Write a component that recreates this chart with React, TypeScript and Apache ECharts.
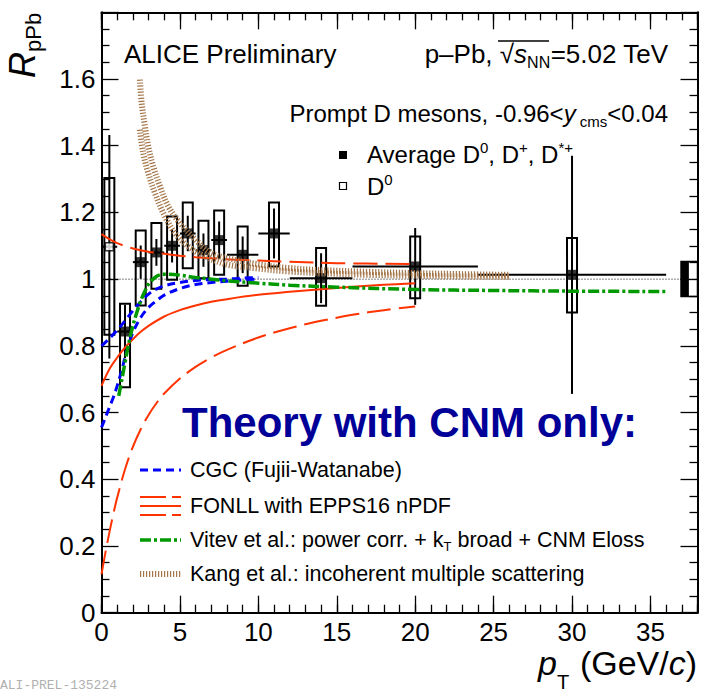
import React, { useEffect, useRef } from 'react';
import * as echarts from 'echarts';

const FONT = '"Liberation Sans", Arial, Helvetica, sans-serif';

// ---------------- data: Average D0, D+, D*+ ----------------
const avgPt = [1.5, 2.5, 3.5, 4.5, 5.5, 6.5, 7.5, 9, 11, 14, 20, 30];
const avgPtLow = [1, 2, 3, 4, 5, 6, 7, 8, 10, 12, 16, 24];
const avgPtHigh = [2, 3, 4, 5, 6, 7, 8, 10, 12, 16, 24, 36];
const avgR = [0.843, 1.051, 1.08, 1.1, 1.137, 1.087, 1.117, 1.073, 1.137, 1.003, 1.038, 1.013];
const avgStat = [0.08, 0.05, 0.04, 0.05, 0.053, 0.05, 0.056, 0.055, 0.075, 0.075, 0.115, 0.357];
const avgSystLow = [0.676, 0.921, 0.971, 0.998, 1.033, 1.003, 1.013, 0.98, 1.038, 0.92, 0.943, 0.9];
const avgSystHigh = [0.926, 1.146, 1.168, 1.188, 1.23, 1.175, 1.206, 1.158, 1.23, 1.093, 1.128, 1.123];

// ---------------- data: D0 ----------------
const d0Pt = [0.5];
const d0PtLow = [0];
const d0PtHigh = [1];
const d0R = [1.097];
const d0Stat = [0.335];
const d0SystLow = [0.833];
const d0SystHigh = [1.303];

// normalisation uncertainty box
const normPt = [36.95, 37.45];
const normR = [0.948, 1.053];

// reference line
const unityPt = [0, 38];
const unityR = [1, 1];

// ---------------- theory: CGC (Fujii-Watanabe) ----------------
const cgcUpperPt = [0, 0.5, 1, 1.5, 2, 2.5, 3, 3.5, 4, 5, 6, 7, 8, 9, 10];
const cgcUpperR = [0.8, 0.822, 0.847, 0.875, 0.905, 0.932, 0.955, 0.97, 0.98, 0.99, 0.996, 0.999, 1.0, 1.003, 1.005];
const cgcLowerPt = [0, 0.25, 0.5, 0.75, 1, 1.25, 1.5, 1.75, 2, 2.5, 3, 3.5, 4, 5, 6, 7, 8, 9, 10];
const cgcLowerR = [0.555, 0.585, 0.615, 0.645, 0.68, 0.72, 0.765, 0.805, 0.84, 0.885, 0.915, 0.935, 0.952, 0.972, 0.984, 0.99, 0.994, 0.998, 1.0];

// ---------------- theory: FONLL with EPPS16 ----------------
const fonllUpperPt = [0, 0.5, 1, 1.5, 2, 3, 4, 5, 6, 8, 10, 12, 15, 20];
const fonllUpperR = [1.135, 1.12, 1.108, 1.099, 1.092, 1.082, 1.076, 1.07, 1.066, 1.06, 1.056, 1.052, 1.048, 1.045];
const fonllCentralPt = [0, 0.5, 1, 1.5, 2, 2.5, 3, 4, 5, 6, 7, 8, 10, 12, 14, 16, 18, 20];
const fonllCentralR = [0.68, 0.73, 0.765, 0.795, 0.82, 0.842, 0.86, 0.888, 0.907, 0.921, 0.932, 0.94, 0.953, 0.962, 0.970, 0.977, 0.983, 0.988];
const fonllLowerPt = [0, 0.25, 0.5, 0.75, 1, 1.5, 2, 2.5, 3, 3.5, 4, 5, 6, 7, 8, 10, 12, 14, 16, 18, 20];
const fonllLowerR = [0.115, 0.18, 0.24, 0.295, 0.345, 0.43, 0.497, 0.55, 0.593, 0.628, 0.657, 0.702, 0.737, 0.765, 0.788, 0.825, 0.853, 0.875, 0.893, 0.907, 0.918];

// ---------------- theory: Vitev et al. ----------------
const vitevPt = [1.1, 1.3, 1.5, 1.75, 2, 2.25, 2.5, 2.75, 3, 3.5, 4, 5, 6, 7, 8, 10, 12, 15, 20, 25, 30, 36];
const vitevR = [0.65, 0.7, 0.75, 0.81, 0.86, 0.9, 0.935, 0.962, 0.985, 1.008, 1.015, 1.012, 1.005, 1.0, 0.995, 0.988, 0.982, 0.976, 0.969, 0.966, 0.964, 0.963];

// ---------------- theory: Kang et al. ----------------
const kangUpperPt = [2.45, 2.56, 2.77, 2.98, 3.3, 3.73, 4.26, 5, 6, 7, 8.5, 10.2, 12, 14, 17, 20, 23, 26];
const kangUpperR = [1.598, 1.528, 1.458, 1.398, 1.338, 1.278, 1.218, 1.168, 1.118, 1.078, 1.058, 1.043, 1.033, 1.027, 1.022, 1.018, 1.015, 1.013];
const kangLowerPt = [2.45, 2.66, 2.98, 3.41, 3.94, 4.68, 5.53, 6.6, 8.08, 9.78, 11.9, 14, 17, 20, 23, 26];
const kangLowerR = [1.448, 1.378, 1.318, 1.258, 1.198, 1.138, 1.098, 1.068, 1.043, 1.033, 1.023, 1.018, 1.013, 1.01, 1.008, 1.007];

// axis ticks
const xMajorTicks = [0, 5, 10, 15, 20, 25, 30, 35];
const yTickLabels = ['0', '0.2', '0.4', '0.6', '0.8', '1', '1.2', '1.4', '1.6'];

// ---------------- styles ----------------
const C_BLUE = '#0000ff';
const C_RED = '#ff3300';
const C_GREEN = '#009900';
const C_BROWN = '#a47548';
const C_NAVY = '#000099';

const zip = (xs: number[], ys: number[]) => xs.map((x, i) => [x, ys[i]]);

function richStyles(fs: number, color = '#000', subRatio = 0.62, lhRatio = 1.25) {
  const s = Math.round(fs * subRatio);
  const lh = Math.round(fs * lhRatio);
  return {
    n: { fontSize: fs, fontFamily: FONT, lineHeight: lh, verticalAlign: 'middle', fill: color },
    i: { fontSize: fs, fontFamily: FONT, lineHeight: lh, verticalAlign: 'middle', fill: color, fontStyle: 'italic' },
    b: { fontSize: fs, fontFamily: FONT, lineHeight: lh, verticalAlign: 'middle', fill: color, fontWeight: 'bold' },
    sub: { fontSize: s, fontFamily: FONT, lineHeight: s, verticalAlign: 'bottom', fill: color },
    sup: { fontSize: s, fontFamily: FONT, lineHeight: s, verticalAlign: 'top', fill: color },
  };
}

function txt(x: number, baseline: number, text: string, fs: number, align = 'left', color = '#000', extra: any = {}) {
  return {
    type: 'text',
    x,
    y: baseline - 0.35 * fs,
    z: 100,
    silent: true,
    style: {
      text,
      align,
      verticalAlign: 'middle',
      rich: richStyles(fs, color, extra.subRatio, extra.lhRatio),
    },
  };
}

function errRender(boxHalf: number) {
  return (params: any, api: any) => {
    const x = api.value(0);
    const y = api.value(1);
    const c = api.coord([x, y]);
    const xl = api.coord([api.value(2), y])[0];
    const xh = api.coord([api.value(3), y])[0];
    const yl = api.coord([x, api.value(4)])[1];
    const yh = api.coord([x, api.value(5)])[1];
    const sl = api.coord([x, api.value(6)])[1];
    const sh = api.coord([x, api.value(7)])[1];
    return {
      type: 'group',
      children: [
        { type: 'rect', shape: { x: c[0] - boxHalf, y: sh, width: 2 * boxHalf, height: sl - sh }, style: { fill: 'none', stroke: '#000', lineWidth: 2 } },
        { type: 'line', shape: { x1: xl, y1: c[1], x2: xh, y2: c[1] }, style: { stroke: '#000', lineWidth: 2 } },
        { type: 'line', shape: { x1: c[0], y1: yh, x2: c[0], y2: yl }, style: { stroke: '#000', lineWidth: 2 } },
      ],
    };
  };
}

function theoryLine(name: string, xs: number[], ys: number[], color: string, width: number, type: any, z = 4) {
  return {
    name,
    type: 'line',
    data: zip(xs, ys),
    symbol: 'none',
    smooth: 0.35,
    clip: true,
    silent: true,
    z,
    lineStyle: { color, width, type, cap: 'butt' },
  };
}

function buildOption() {
  const tickStyle = { color: '#000', width: 1.3 };
  const axisLineStyle = { color: '#000', width: 2 };
  const xBase = (position: string, interval: number, len: number, labels: boolean, line: boolean) => ({
    type: 'value',
    min: 0,
    max: 38,
    interval,
    position,
    axisLine: { show: line, onZero: false, lineStyle: axisLineStyle },
    axisTick: { show: true, inside: true, length: len, lineStyle: tickStyle },
    axisLabel: labels
      ? {
          show: true,
          margin: 7,
          fontSize: 26,
          lineHeight: 24,
          fontFamily: FONT,
          color: '#000',
          formatter: (v: number) => (xMajorTicks.indexOf(Math.round(v)) >= 0 && Math.abs(v - Math.round(v)) < 1e-6 ? String(Math.round(v)) : ''),
        }
      : { show: false },
    splitLine: { show: false },
  });
  const yBase = (position: string, labels: boolean) => ({
    type: 'value',
    min: 0,
    max: 1.8,
    interval: 0.2,
    position,
    axisLine: { show: true, onZero: false, lineStyle: axisLineStyle },
    axisTick: { show: true, inside: true, length: 17, lineStyle: tickStyle },
    minorTick: { show: true, splitNumber: 4, length: 8, lineStyle: tickStyle },
    minorSplitLine: { show: false },
    axisLabel: labels
      ? {
          show: true,
          margin: 6,
          fontSize: 26,
          fontFamily: FONT,
          color: '#000',
          formatter: (v: number) => {
            const k = Math.round(v / 0.2);
            return yTickLabels[k] !== undefined ? yTickLabels[k] : '';
          },
        }
      : { show: false },
    splitLine: { show: false },
  });

  const avgData = avgPt.map((x, i) => [x, avgR[i], avgPtLow[i], avgPtHigh[i], avgR[i] - avgStat[i], avgR[i] + avgStat[i], avgSystLow[i], avgSystHigh[i]]);
  const d0Data = d0Pt.map((x, i) => [x, d0R[i], d0PtLow[i], d0PtHigh[i], d0R[i] - d0Stat[i], d0R[i] + d0Stat[i], d0SystLow[i], d0SystHigh[i]]);

  const LFS = 21.5;
  const graphic: any[] = [
    txt(124, 63, '{n|ALICE Preliminary}', 26),
    txt(668, 63, '{n|p–Pb, √}{i|s}{sub|NN}{n|=5.02 TeV}', 26, 'right'),
    { type: 'line', z: 100, silent: true, shape: { x1: 498, y1: 41, x2: 549, y2: 41 }, style: { stroke: '#000', lineWidth: 1.3 } },
    txt(668, 122, '{n|Prompt D mesons, -0.96<}{i|y}{sub| cms}{n|<0.04}', 24, 'right'),
    { type: 'rect', z: 100, silent: true, shape: { x: 339, y: 151, width: 8, height: 8 }, style: { fill: '#000' } },
    txt(367, 163, '{n|Average D}{sup|0}{n|, D}{sup|+}{n|, D}{sup|*+}', 24),
    { type: 'rect', z: 100, silent: true, shape: { x: 339.5, y: 182.5, width: 7, height: 7 }, style: { fill: '#fff', stroke: '#000', lineWidth: 1.2 } },
    txt(367, 195, '{n|D}{sup|0}', 24),

    txt(182, 437, '{b|Theory with CNM only:}', 42, 'left', C_NAVY),
    { type: 'line', z: 100, silent: true, shape: { x1: 140, y1: 470, x2: 181, y2: 470 }, style: { stroke: C_BLUE, lineWidth: 3, lineDash: [8, 5] } },
    txt(190, 477.5, '{n|CGC (Fujii-Watanabe)}', LFS),
    { type: 'line', z: 100, silent: true, shape: { x1: 140, y1: 497, x2: 181, y2: 497 }, style: { stroke: C_RED, lineWidth: 2, lineDash: [26, 6] } },
    { type: 'line', z: 100, silent: true, shape: { x1: 140, y1: 506, x2: 181, y2: 506 }, style: { stroke: C_RED, lineWidth: 2 } },
    { type: 'line', z: 100, silent: true, shape: { x1: 140, y1: 515, x2: 181, y2: 515 }, style: { stroke: C_RED, lineWidth: 2, lineDash: [26, 6] } },
    txt(190, 513.5, '{n|FONLL with EPPS16 nPDF}', LFS),
    { type: 'line', z: 100, silent: true, shape: { x1: 140, y1: 540, x2: 181, y2: 540 }, style: { stroke: C_GREEN, lineWidth: 3.5, lineDash: [11, 3, 3, 3] } },
    txt(190, 547.5, '{n|Vitev et al.: power corr. + k}{sub|T}{n| broad + CNM Eloss}', LFS),
    { type: 'line', z: 100, silent: true, shape: { x1: 140, y1: 574, x2: 181, y2: 574 }, style: { stroke: C_BROWN, lineWidth: 6, lineDash: [1.2, 1.8] } },
    txt(190, 581.5, '{n|Kang et al.: incoherent multiple scattering}', LFS),

    // x-axis title
    txt(538, 675, '{i|p}', 34, 'left', '#000', { lhRatio: 0.8 }),
    txt(557, 689, '{n|T}', 20, 'left', '#000', { lhRatio: 0.8 }),
    txt(697, 675, '{n|(GeV/}{i|c}{n|)}', 34, 'right', '#000', { lhRatio: 0.8 }),
    // y-axis title
    {
      type: 'text', z: 100, silent: true, x: 22, y: 78, rotation: Math.PI / 2,
      style: {
        text: '{i|R}{sub|pPb}', align: 'left', verticalAlign: 'middle',
        rich: richStyles(36, '#000', 0.62),
      },
    },
    {
      type: 'text', z: 100, silent: true, x: 0, y: 685,
      style: { text: 'ALI-PREL-135224', fontSize: 13, fontFamily: '"Liberation Mono", "DejaVu Sans Mono", monospace', fill: '#b0b0b0', align: 'left', verticalAlign: 'middle' },
    },
  ];

  return {
    animation: false,
    backgroundColor: '#fff',
    grid: { left: 101.5, right: 4.5, top: 12.3, bottom: 80.3, containLabel: false },
    xAxis: [
      xBase('bottom', 5, 17, true, true),
      xBase('bottom', 1, 8, false, false),
      xBase('top', 5, 17, false, true),
      xBase('top', 1, 8, false, false),
    ],
    yAxis: [yBase('left', true), yBase('right', false)],
    graphic,
    series: [
      {
        name: 'unity',
        type: 'line',
        data: zip(unityPt, unityR),
        symbol: 'none',
        silent: true,
        z: 1,
        lineStyle: { color: '#000', width: 1, type: [1, 2] },
      },
      {
        name: 'norm',
        type: 'custom',
        silent: true,
        z: 2,
        data: [[normPt[0], normR[0], normPt[1], normR[1]]],
        encode: { x: 0, y: 1 },
        renderItem: (params: any, api: any) => {
          const p0 = api.coord([api.value(0), api.value(3)]);
          const p1 = api.coord([api.value(2), api.value(1)]);
          const pEnd = api.coord([38, api.value(1)]);
          return {
            type: 'group',
            children: [
              { type: 'rect', shape: { x: p0[0], y: p0[1], width: pEnd[0] - p0[0], height: p1[1] - p0[1] }, style: { fill: 'none', stroke: '#000', lineWidth: 1.5 } },
              { type: 'rect', shape: { x: p0[0], y: p0[1], width: p1[0] - p0[0], height: p1[1] - p0[1] }, style: { fill: '#000' } },
            ],
          };
        },
      },
      {
        name: 'Average D0, D+, D*+ errors',
        type: 'custom',
        silent: true,
        z: 2,
        clip: true,
        data: avgData,
        encode: { x: 0, y: 1 },
        renderItem: errRender(5),
      },
      {
        name: 'D0 errors',
        type: 'custom',
        silent: true,
        z: 2,
        clip: true,
        data: d0Data,
        encode: { x: 0, y: 1 },
        renderItem: errRender(5),
      },
      {
        name: 'Average D0, D+, D*+',
        type: 'scatter',
        silent: true,
        z: 3,
        data: zip(avgPt, avgR),
        symbol: 'rect',
        symbolSize: 10,
        itemStyle: { color: '#000' },
      },
      {
        name: 'D0',
        type: 'scatter',
        silent: true,
        z: 3,
        data: zip(d0Pt, d0R),
        symbol: 'rect',
        symbolSize: 8,
        itemStyle: { color: '#fff', borderColor: '#000', borderWidth: 1.5 },
      },
      theoryLine('CGC upper', cgcUpperPt, cgcUpperR, C_BLUE, 3, [8, 5]),
      theoryLine('CGC lower', cgcLowerPt, cgcLowerR, C_BLUE, 3, [8, 5]),
      theoryLine('FONLL upper', fonllUpperPt, fonllUpperR, C_RED, 2, [24, 8]),
      theoryLine('FONLL central', fonllCentralPt, fonllCentralR, C_RED, 2, 'solid'),
      theoryLine('FONLL lower', fonllLowerPt, fonllLowerR, C_RED, 2, [24, 8]),
      theoryLine('Vitev', vitevPt, vitevR, C_GREEN, 3.5, [11, 3, 3, 3]),
      theoryLine('Kang upper', kangUpperPt, kangUpperR, C_BROWN, 6, [1.2, 1.8], 5),
      theoryLine('Kang lower', kangLowerPt, kangLowerR, C_BROWN, 6, [1.2, 1.8], 5),
    ],
  };
}

export default function App() {
  const ref = useRef<HTMLDivElement>(null);
  useEffect(() => {
    if (!ref.current) return;
    const chart = echarts.init(ref.current, null, { renderer: 'svg' });
    chart.setOption(buildOption() as any);
    return () => chart.dispose();
  }, []);
  return <div ref={ref} style={{ position: 'absolute', left: 0, top: 0, width: 702, height: 693, background: '#fff' }} />;
}
